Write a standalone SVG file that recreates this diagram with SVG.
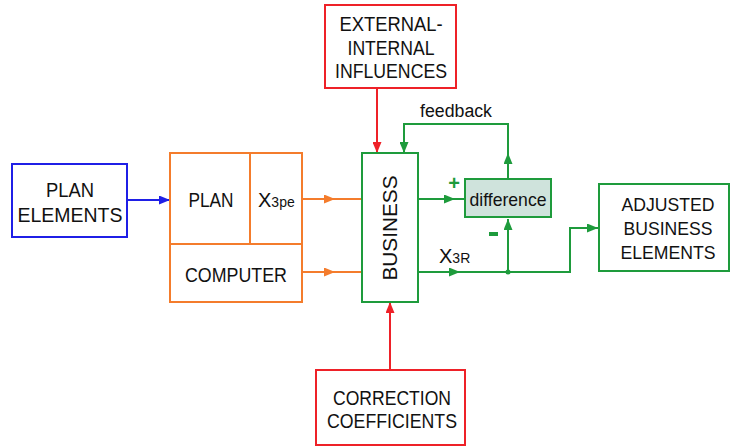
<svg xmlns="http://www.w3.org/2000/svg" width="732" height="447" viewBox="0 0 732 447">
<style>
text{font-family:"Liberation Sans",Arial,sans-serif;fill:#111}
.lbl{font-size:21px;text-anchor:middle}
.sub{font-size:14px}
.box{fill:#fff;stroke-width:2}
.blue{stroke:#1f1fe6}
.orange{stroke:#f47c2c}
.red{stroke:#ee2128}
.green{stroke:#1e9b3c}
.ln{fill:none;stroke-width:2}
</style>
<defs>
<marker id="aB" viewBox="0 0 11 9" refX="11" refY="4.5" markerWidth="11" markerHeight="9" markerUnits="userSpaceOnUse" orient="auto"><path d="M0,0L11,4.5L0,9z" fill="#1f1fe6"/></marker>
<marker id="aO" viewBox="0 0 11 9" refX="11" refY="4.5" markerWidth="11" markerHeight="9" markerUnits="userSpaceOnUse" orient="auto"><path d="M0,0L11,4.5L0,9z" fill="#f47c2c"/></marker>
<marker id="aR" viewBox="0 0 11 9" refX="11" refY="4.5" markerWidth="11" markerHeight="9" markerUnits="userSpaceOnUse" orient="auto"><path d="M0,0L11,4.5L0,9z" fill="#ee2128"/></marker>
<marker id="aG" viewBox="0 0 11 9" refX="11" refY="4.5" markerWidth="11" markerHeight="9" markerUnits="userSpaceOnUse" orient="auto"><path d="M0,0L11,4.5L0,9z" fill="#1e9b3c"/></marker>
</defs>

<g id="connectors">
<line class="ln blue" x1="127" y1="200" x2="170" y2="200" marker-end="url(#aB)"/>
<line class="ln orange" x1="302" y1="199" x2="335" y2="199" marker-end="url(#aO)"/>
<line class="ln orange" x1="334" y1="199" x2="362" y2="199"/>
<line class="ln orange" x1="302" y1="272" x2="335" y2="272" marker-end="url(#aO)"/>
<line class="ln orange" x1="334" y1="272" x2="362" y2="272"/>
<line class="ln red" x1="377" y1="88" x2="377" y2="153" marker-end="url(#aR)"/>
<line class="ln red" x1="390" y1="370" x2="390" y2="302" marker-end="url(#aR)"/>
<line class="ln green" x1="418" y1="199" x2="455" y2="199" marker-end="url(#aG)"/>
<line class="ln green" x1="454" y1="199" x2="465" y2="199"/>
<line class="ln green" x1="508" y1="179" x2="508" y2="153" marker-end="url(#aG)"/>
<path class="ln green" d="M508,154V124H404V153" marker-end="url(#aG)"/>
<line class="ln green" x1="418" y1="272" x2="460" y2="272" marker-end="url(#aG)"/>
<path class="ln green" d="M459,272H570V228H598" marker-end="url(#aG)"/>
<line class="ln green" x1="508" y1="272" x2="508" y2="219" marker-end="url(#aG)"/>
<circle cx="508" cy="272" r="2.5" fill="#1e9b3c"/>
<text x="456" y="117" class="lbl" style="font-size:18px" textLength="72" lengthAdjust="spacingAndGlyphs">feedback</text>
<text x="454" y="190" style="font-size:20px;font-weight:bold;fill:#1e9b3c;text-anchor:middle">+</text>
<rect x="489" y="232" width="9" height="4" fill="#1e9b3c"/>
<text x="439" y="263" style="font-size:20px">X<tspan class="sub">3R</tspan></text>
</g>

<g id="plan-elements">
<rect class="box blue" x="12" y="164" width="115" height="73"/>
<text x="70" y="197" class="lbl" textLength="48" lengthAdjust="spacingAndGlyphs">PLAN</text>
<text x="70" y="222" class="lbl" textLength="105" lengthAdjust="spacingAndGlyphs">ELEMENTS</text>
</g>

<g id="plan-computer">
<rect class="box orange" x="170" y="153" width="132" height="149"/>
<line class="ln orange" x1="170" y1="244" x2="302" y2="244"/>
<line class="ln orange" x1="250" y1="153" x2="250" y2="244"/>
<text x="211" y="207" class="lbl" textLength="45" lengthAdjust="spacingAndGlyphs">PLAN</text>
<text x="258" y="207" style="font-size:20px">X<tspan class="sub">3pe</tspan></text>
<text x="236" y="282" class="lbl" textLength="102" lengthAdjust="spacingAndGlyphs">COMPUTER</text>
</g>

<g id="external">
<rect class="box red" x="325" y="5" width="131" height="83"/>
<text x="391" y="31" class="lbl" textLength="103" lengthAdjust="spacingAndGlyphs">EXTERNAL-</text>
<text x="391" y="55" class="lbl" textLength="87" lengthAdjust="spacingAndGlyphs">INTERNAL</text>
<text x="391" y="78" class="lbl" textLength="112" lengthAdjust="spacingAndGlyphs">INFLUENCES</text>
</g>

<g id="business">
<rect class="box green" x="362" y="153" width="56" height="149"/>
<text x="397" y="228" class="lbl" transform="rotate(-90 397 228)" textLength="105" lengthAdjust="spacingAndGlyphs">BUSINESS</text>
</g>

<g id="difference">
<rect x="465" y="179" width="86" height="38" fill="#cfe3dc" stroke="#1e9b3c" stroke-width="2"/>
<text x="508" y="206" class="lbl" style="font-size:19px" textLength="77" lengthAdjust="spacingAndGlyphs">difference</text>
</g>

<g id="adjusted">
<rect class="box green" x="599" y="184" width="130" height="87"/>
<text x="668" y="211" class="lbl" style="font-size:18px" textLength="93" lengthAdjust="spacingAndGlyphs">ADJUSTED</text>
<text x="668" y="235" class="lbl" style="font-size:18px" textLength="89" lengthAdjust="spacingAndGlyphs">BUSINESS</text>
<text x="668" y="259" class="lbl" style="font-size:18px" textLength="95" lengthAdjust="spacingAndGlyphs">ELEMENTS</text>
</g>

<g id="correction">
<rect class="box red" x="316" y="370" width="149" height="75"/>
<text x="392" y="405" class="lbl" textLength="118" lengthAdjust="spacingAndGlyphs">CORRECTION</text>
<text x="392" y="428" class="lbl" textLength="130" lengthAdjust="spacingAndGlyphs">COEFFICIENTS</text>
</g>
</svg>
